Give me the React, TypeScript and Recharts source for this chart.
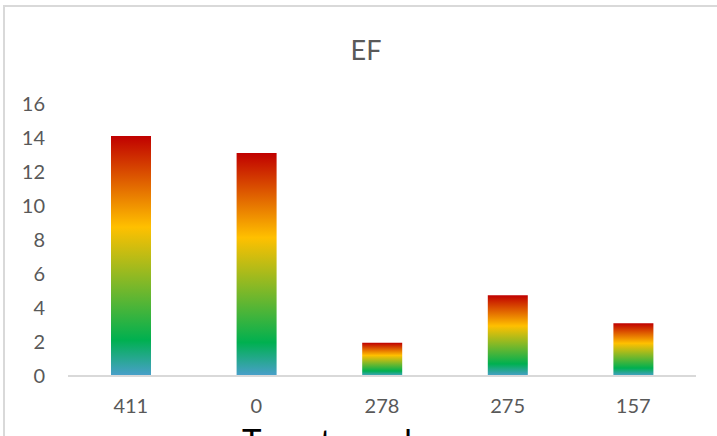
import React from "react";
import { BarChart, Bar, XAxis, YAxis, Label } from "recharts";

const categories = ["411", "0", "278", "275", "157"];
const efValues = [14.12, 13.12, 1.95, 4.75, 3.1];
const yTicks = [0, 2, 4, 6, 8, 10, 12, 14, 16];

const data = categories.map((c, i) => ({ name: c, ef: efValues[i] }));

const FONT = "Lato, 'Open Sans', sans-serif";

export default function App() {
  return (
    <div style={{ position: "absolute", left: 0, top: 0, width: 717, height: 436, overflow: "hidden", background: "#fff" }}>
      <div
        style={{
          position: "absolute",
          left: 3,
          top: 5,
          width: 800,
          height: 600,
          border: "2px solid #d9d9d9",
          boxSizing: "border-box",
        }}
      />
      <div
        style={{
          position: "absolute",
          left: 0,
          width: 732,
          top: 32,
          textAlign: "center",
          fontFamily: FONT,
          fontSize: 27,
          color: "#595959",
          lineHeight: "36px",
        }}
      >
        EF
      </div>
      <div style={{ position: "absolute", left: 0, top: 0 }}>
        <BarChart
          width={717}
          height={436}
          data={data}
          margin={{ top: 104, right: 21, bottom: 0, left: 8 }}
        >
          <defs>
            <linearGradient id="efGrad" x1="0" y1="0" x2="0" y2="1">
              <stop offset="0" stopColor="#C00000" />
              <stop offset="0.38" stopColor="#FFC000" />
              <stop offset="0.85" stopColor="#00B050" />
              <stop offset="1" stopColor="#4A9FCC" />
            </linearGradient>
          </defs>
          <XAxis
            dataKey="name"
            height={60}
            tickLine={false}
            tickSize={0}
            tickMargin={23}
            axisLine={{ stroke: "#d9d9d9", strokeWidth: 2 }}
            tick={{ fill: "#595959", fontSize: 20, fontFamily: FONT }}
            interval={0}
          >
            <Label
              value="Target number"
              position="insideBottom"
              offset={-17}
              dx={-35}
              style={{ fill: "#000", fontSize: 33, fontFamily: FONT }}
            />
          </XAxis>
          <YAxis
            width={60}
            domain={[0, 16]}
            ticks={yTicks}
            interval={0}
            tickLine={false}
            tickSize={0}
            tickMargin={23}
            axisLine={false}
            tick={{ fill: "#595959", fontSize: 20, fontFamily: FONT }}
          />
          <Bar dataKey="ef" fill="url(#efGrad)" barSize={40} isAnimationActive={false} />
        </BarChart>
      </div>
    </div>
  );
}
